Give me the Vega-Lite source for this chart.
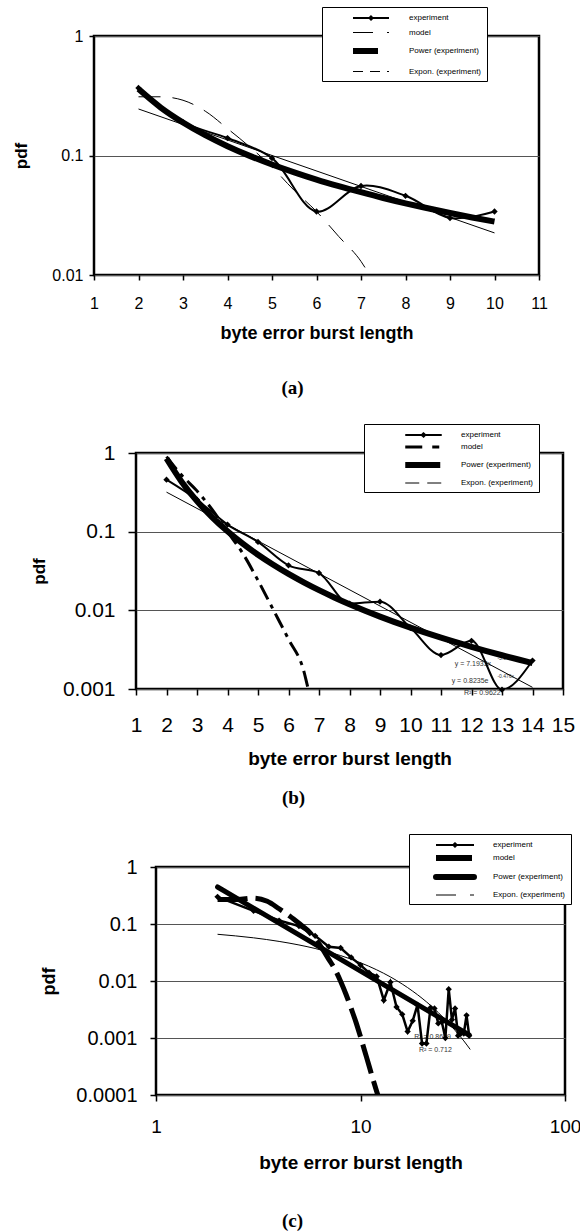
{
  "$schema": "https://vega.github.io/schema/vega-lite/v6.json",
  "padding": {"left": 0, "top": 5, "right": 0, "bottom": 0},
  "spacing": 22,
  "resolve": {"scale": {"stroke": "independent"}, "legend": {"stroke": "independent"}},
  "datasets": {
    "a": [
      {"s": "experiment", "x": 2, "y": 0.367}, {"s": "experiment", "x": 3, "y": 0.19}, {"s": "experiment", "x": 4, "y": 0.14},
      {"s": "experiment", "x": 5, "y": 0.095}, {"s": "experiment", "x": 6, "y": 0.034}, {"s": "experiment", "x": 7, "y": 0.0556},
      {"s": "experiment", "x": 8, "y": 0.046}, {"s": "experiment", "x": 9, "y": 0.03}, {"s": "experiment", "x": 10, "y": 0.034},
      {"s": "model", "x": 2, "y": 0.31}, {"s": "model", "x": 2.5, "y": 0.31}, {"s": "model", "x": 3, "y": 0.29},
      {"s": "model", "x": 3.5, "y": 0.235}, {"s": "model", "x": 4, "y": 0.168}, {"s": "model", "x": 4.5, "y": 0.118},
      {"s": "model", "x": 5, "y": 0.08}, {"s": "model", "x": 5.5, "y": 0.051}, {"s": "model", "x": 6, "y": 0.034},
      {"s": "model", "x": 6.5, "y": 0.021}, {"s": "model", "x": 7, "y": 0.013}, {"s": "model", "x": 7.3, "y": 0.0085},
      {"s": "Power (experiment)", "x": 2, "y": 0.36}, {"s": "Power (experiment)", "x": 2.5, "y": 0.252}, {"s": "Power (experiment)", "x": 3, "y": 0.189},
      {"s": "Power (experiment)", "x": 3.5, "y": 0.148}, {"s": "Power (experiment)", "x": 4, "y": 0.1197}, {"s": "Power (experiment)", "x": 4.5, "y": 0.0993},
      {"s": "Power (experiment)", "x": 5, "y": 0.084}, {"s": "Power (experiment)", "x": 5.5, "y": 0.0722}, {"s": "Power (experiment)", "x": 6, "y": 0.0628},
      {"s": "Power (experiment)", "x": 6.5, "y": 0.0554}, {"s": "Power (experiment)", "x": 7, "y": 0.0493}, {"s": "Power (experiment)", "x": 7.5, "y": 0.0441},
      {"s": "Power (experiment)", "x": 8, "y": 0.0398}, {"s": "Power (experiment)", "x": 8.5, "y": 0.0362}, {"s": "Power (experiment)", "x": 9, "y": 0.033},
      {"s": "Power (experiment)", "x": 9.5, "y": 0.0303}, {"s": "Power (experiment)", "x": 10, "y": 0.028},
      {"s": "Expon. (experiment)", "x": 2, "y": 0.245}, {"s": "Expon. (experiment)", "x": 10, "y": 0.0225}
    ],
    "b": [
      {"s": "experiment", "x": 2, "y": 0.458}, {"s": "experiment", "x": 3, "y": 0.255}, {"s": "experiment", "x": 4, "y": 0.123},
      {"s": "experiment", "x": 5, "y": 0.074}, {"s": "experiment", "x": 6, "y": 0.0373}, {"s": "experiment", "x": 7, "y": 0.0298},
      {"s": "experiment", "x": 8, "y": 0.0122}, {"s": "experiment", "x": 9, "y": 0.0129}, {"s": "experiment", "x": 10, "y": 0.006},
      {"s": "experiment", "x": 11, "y": 0.0027}, {"s": "experiment", "x": 12, "y": 0.0041}, {"s": "experiment", "x": 13, "y": 0.00098},
      {"s": "experiment", "x": 14, "y": 0.0023},
      {"s": "model", "x": 2, "y": 0.9}, {"s": "model", "x": 2.5, "y": 0.52}, {"s": "model", "x": 3, "y": 0.33},
      {"s": "model", "x": 3.5, "y": 0.19}, {"s": "model", "x": 4, "y": 0.1}, {"s": "model", "x": 4.5, "y": 0.053},
      {"s": "model", "x": 5, "y": 0.024}, {"s": "model", "x": 5.5, "y": 0.0102}, {"s": "model", "x": 6, "y": 0.0043},
      {"s": "model", "x": 6.5, "y": 0.0017}, {"s": "model", "x": 6.65, "y": 0.001}, {"s": "model", "x": 6.8, "y": 0.0007},
      {"s": "Power (experiment)", "x": 2, "y": 0.852}, {"s": "Power (experiment)", "x": 2.5, "y": 0.429}, {"s": "Power (experiment)", "x": 3, "y": 0.2447},
      {"s": "Power (experiment)", "x": 3.5, "y": 0.1523}, {"s": "Power (experiment)", "x": 4, "y": 0.101}, {"s": "Power (experiment)", "x": 4.5, "y": 0.0703},
      {"s": "Power (experiment)", "x": 5, "y": 0.0508}, {"s": "Power (experiment)", "x": 5.5, "y": 0.0379}, {"s": "Power (experiment)", "x": 6, "y": 0.029},
      {"s": "Power (experiment)", "x": 6.5, "y": 0.02267}, {"s": "Power (experiment)", "x": 7, "y": 0.01804}, {"s": "Power (experiment)", "x": 7.5, "y": 0.0146},
      {"s": "Power (experiment)", "x": 8, "y": 0.01197}, {"s": "Power (experiment)", "x": 9, "y": 0.00833}, {"s": "Power (experiment)", "x": 10, "y": 0.00602},
      {"s": "Power (experiment)", "x": 11, "y": 0.00449}, {"s": "Power (experiment)", "x": 12, "y": 0.00344}, {"s": "Power (experiment)", "x": 13, "y": 0.002685},
      {"s": "Power (experiment)", "x": 14, "y": 0.002138},
      {"s": "Expon. (experiment)", "x": 2, "y": 0.318}, {"s": "Expon. (experiment)", "x": 14, "y": 0.00105}
    ],
    "bt": [
      {"x": 11.45, "y": 0.0021, "t": "y = 7.1933x", "k": "n"},
      {"x": 12.85, "y": 0.0025, "t": "-3.0771", "k": "s"},
      {"x": 11.35, "y": 0.00126, "t": "y = 0.8235e", "k": "n"},
      {"x": 12.85, "y": 0.00145, "t": "-0.476x", "k": "s"},
      {"x": 11.75, "y": 0.00089, "t": "R² = 0.9622", "k": "n"}
    ],
    "c": [
      {"s": "experiment", "x": 2, "y": 0.3}, {"s": "experiment", "x": 3, "y": 0.17}, {"s": "experiment", "x": 4, "y": 0.115},
      {"s": "experiment", "x": 5, "y": 0.092}, {"s": "experiment", "x": 6, "y": 0.062}, {"s": "experiment", "x": 7, "y": 0.04},
      {"s": "experiment", "x": 8, "y": 0.038}, {"s": "experiment", "x": 9, "y": 0.026}, {"s": "experiment", "x": 10, "y": 0.019},
      {"s": "experiment", "x": 11, "y": 0.014}, {"s": "experiment", "x": 12, "y": 0.012}, {"s": "experiment", "x": 13, "y": 0.0046},
      {"s": "experiment", "x": 14, "y": 0.0095}, {"s": "experiment", "x": 15, "y": 0.0035}, {"s": "experiment", "x": 16, "y": 0.0026},
      {"s": "experiment", "x": 17, "y": 0.0013}, {"s": "experiment", "x": 18, "y": 0.002}, {"s": "experiment", "x": 19, "y": 0.0038},
      {"s": "experiment", "x": 20, "y": 0.0008}, {"s": "experiment", "x": 21, "y": 0.0008}, {"s": "experiment", "x": 22, "y": 0.0034},
      {"s": "experiment", "x": 23, "y": 0.0033}, {"s": "experiment", "x": 24, "y": 0.0018}, {"s": "experiment", "x": 25, "y": 0.0019},
      {"s": "experiment", "x": 26, "y": 0.001}, {"s": "experiment", "x": 27, "y": 0.0072}, {"s": "experiment", "x": 28, "y": 0.0021},
      {"s": "experiment", "x": 29, "y": 0.0033}, {"s": "experiment", "x": 30, "y": 0.0011}, {"s": "experiment", "x": 31, "y": 0.0012},
      {"s": "experiment", "x": 32, "y": 0.0012}, {"s": "experiment", "x": 33, "y": 0.0025}, {"s": "experiment", "x": 34, "y": 0.0011},
      {"s": "model", "x": 2, "y": 0.27}, {"s": "model", "x": 2.5, "y": 0.27}, {"s": "model", "x": 3, "y": 0.285},
      {"s": "model", "x": 3.5, "y": 0.25}, {"s": "model", "x": 4, "y": 0.185}, {"s": "model", "x": 4.5, "y": 0.138},
      {"s": "model", "x": 5, "y": 0.103}, {"s": "model", "x": 5.5, "y": 0.078}, {"s": "model", "x": 6, "y": 0.055},
      {"s": "model", "x": 6.5, "y": 0.037}, {"s": "model", "x": 7, "y": 0.024}, {"s": "model", "x": 7.5, "y": 0.016},
      {"s": "model", "x": 8, "y": 0.0098}, {"s": "model", "x": 8.5, "y": 0.0058}, {"s": "model", "x": 9, "y": 0.0033},
      {"s": "model", "x": 9.5, "y": 0.0019}, {"s": "model", "x": 10, "y": 0.00105}, {"s": "model", "x": 10.5, "y": 0.00058},
      {"s": "model", "x": 11, "y": 0.00033}, {"s": "model", "x": 11.5, "y": 0.00019}, {"s": "model", "x": 12, "y": 0.000115},
      {"s": "model", "x": 12.4, "y": 0.00008},
      {"s": "Power (experiment)", "x": 2, "y": 0.446}, {"s": "Power (experiment)", "x": 34, "y": 0.00113},
      {"s": "Expon. (experiment)", "x": 2, "y": 0.066}, {"s": "Expon. (experiment)", "x": 3, "y": 0.0572}, {"s": "Expon. (experiment)", "x": 4, "y": 0.0495},
      {"s": "Expon. (experiment)", "x": 5, "y": 0.0429}, {"s": "Expon. (experiment)", "x": 6, "y": 0.0372}, {"s": "Expon. (experiment)", "x": 7, "y": 0.0322},
      {"s": "Expon. (experiment)", "x": 8, "y": 0.0279}, {"s": "Expon. (experiment)", "x": 10, "y": 0.0209}, {"s": "Expon. (experiment)", "x": 12, "y": 0.0157},
      {"s": "Expon. (experiment)", "x": 14, "y": 0.0118}, {"s": "Expon. (experiment)", "x": 16, "y": 0.00884}, {"s": "Expon. (experiment)", "x": 18, "y": 0.00663},
      {"s": "Expon. (experiment)", "x": 20, "y": 0.00498}, {"s": "Expon. (experiment)", "x": 22, "y": 0.00374}, {"s": "Expon. (experiment)", "x": 24, "y": 0.0028},
      {"s": "Expon. (experiment)", "x": 26, "y": 0.0021}, {"s": "Expon. (experiment)", "x": 28, "y": 0.00158}, {"s": "Expon. (experiment)", "x": 30, "y": 0.00118},
      {"s": "Expon. (experiment)", "x": 32, "y": 0.00089}, {"s": "Expon. (experiment)", "x": 34.4, "y": 0.00063}
    ],
    "ct": [
      {"x": 18.3, "y": 0.00104, "t": "R² = 0.8699"},
      {"x": 19.3, "y": 0.00062, "t": "R² = 0.712"}
    ],
    "empty": []
  },
  "vconcat": [
    {
      "spacing": 0,
      "resolve": {"scale": {"stroke": "independent"}, "legend": {"stroke": "independent"}},
      "hconcat": [
        {"width": 9.5, "height": 1, "data": {"name": "empty"}, "mark": "point", "view": {"stroke": null}},
        {
          "width": 445, "height": 239,
          "title": {"text": "(a)", "orient": "bottom", "anchor": "middle", "frame": "group", "font": "Liberation Serif", "fontSize": 19, "fontWeight": "bold", "color": "black", "offset": 37, "dx": -24},
          "data": {"name": "a"},
          "encoding": {
            "x": {"field": "x", "type": "quantitative", "scale": {"domain": [1, 11], "nice": false, "zero": false},
              "axis": {"values": [1, 2, 3, 4, 5, 6, 7, 8, 9, 10, 11], "format": "d", "labelFontSize": 16, "labelPadding": 15, "tickSize": 5, "tickWidth": 1.5, "grid": false, "labelFlush": false, "labelOverlap": false,
                "title": "byte error burst length", "titleFontSize": 18, "titleFontWeight": "bold", "titleY": 49}},
            "y": {"field": "y", "type": "quantitative", "scale": {"type": "log", "domain": [0.01, 1], "nice": false},
              "axis": {"values": [0.01, 0.1, 1], "format": "~g", "labelFontSize": 16, "labelPadding": 6, "tickSize": 5, "tickWidth": 1.5, "grid": true, "gridColor": "#555", "labelFlush": false, "labelOverlap": false,
                "title": "pdf", "titleFontSize": 17, "titleFontWeight": "bold", "titleAngle": 270, "titleBaseline": "bottom", "titleAlign": "center", "titleX": -64, "titleY": 119.5}}
          },
          "layer": [
            {"transform": [{"filter": "datum.s === 'Power (experiment)'"}],
             "mark": {"type": "line", "strokeWidth": 6, "interpolate": "monotone", "clip": true},
             "encoding": {"stroke": {"field": "s", "type": "nominal",
               "scale": {"domain": ["experiment", "model", "Power (experiment)", "Expon. (experiment)"], "range": ["black", "black", "black", "black"]},
               "legend": {"orient": "none", "legendX": 228, "legendY": -29, "title": null, "fillColor": "white", "strokeColor": "black", "padding": 5, "rowPadding": 2.5,
                 "symbolSize": 1296, "labelFontSize": 8, "labelColor": "black", "labelFont": "Liberation Sans",
                 "encode": {
                   "symbols": {"update": {
                     "x": {"value": 44}, "y": {"value": 6},
                     "shape": {"signal": "datum.value == 'experiment' ? 'M-1,0H1M0,-0.09L0.09,0L0,0.09L-0.09,0Z' : 'M-1,0H1'"},
                     "strokeWidth": {"signal": "datum.value == 'Power (experiment)' ? 6 : datum.value == 'experiment' ? 2 : 1"},
                     "strokeDash": {"signal": "datum.value == 'model' ? [20,14] : datum.value == 'Power (experiment)' ? [25,22] : datum.value == 'Expon. (experiment)' ? [10,7] : [1,0]"},
                     "fill": {"value": "black"}, "stroke": {"value": "black"}, "opacity": {"value": 1}}},
                   "labels": {"update": {"x": {"value": 82}, "y": {"value": 6}}}}}}}},
            {"transform": [{"filter": "datum.s === 'Expon. (experiment)'"}],
             "mark": {"type": "line", "strokeWidth": 1, "clip": true},
             "encoding": {"stroke": {"field": "s", "type": "nominal"}}},
            {"transform": [{"filter": "datum.s === 'model'"}],
             "mark": {"type": "line", "strokeWidth": 1, "strokeDash": [22, 12], "interpolate": "monotone", "clip": true},
             "encoding": {"stroke": {"field": "s", "type": "nominal"}}},
            {"transform": [{"filter": "datum.s === 'experiment'"}],
             "mark": {"type": "line", "strokeWidth": 2, "interpolate": "catmull-rom", "clip": true},
             "encoding": {"stroke": {"field": "s", "type": "nominal"}}},
            {"transform": [{"filter": "datum.s === 'experiment'"}],
             "mark": {"type": "point", "shape": "diamond", "filled": true, "color": "black", "size": 40, "opacity": 1}}
          ]
        }
      ]
    },
    {
      "spacing": 0,
      "resolve": {"scale": {"stroke": "independent"}, "legend": {"stroke": "independent"}},
      "hconcat": [
        {"width": 27.5, "height": 1, "data": {"name": "empty"}, "mark": "point", "view": {"stroke": null}},
        {
          "width": 427, "height": 236,
          "title": {"text": "(b)", "orient": "bottom", "anchor": "middle", "frame": "group", "font": "Liberation Serif", "fontSize": 19, "fontWeight": "bold", "color": "black", "offset": 21, "dx": -56},
          "data": {"name": "b"},
          "encoding": {
            "x": {"field": "x", "type": "quantitative", "scale": {"domain": [1, 15], "nice": false, "zero": false},
              "axis": {"values": [1, 2, 3, 4, 5, 6, 7, 8, 9, 10, 11, 12, 13, 14, 15], "format": "d", "labelFontSize": 21, "labelPadding": 19, "tickSize": 6, "tickWidth": 1.5, "grid": false, "labelFlush": false, "labelOverlap": false,
                "title": "byte error burst length", "titleFontSize": 19, "titleFontWeight": "bold", "titleY": 60}},
            "y": {"field": "y", "type": "quantitative", "scale": {"type": "log", "domain": [0.001, 1], "nice": false},
              "axis": {"values": [0.001, 0.01, 0.1, 1], "format": "~g", "labelFontSize": 21, "labelPadding": 13, "tickSize": 8, "tickWidth": 1.5, "grid": true, "gridColor": "#555", "labelFlush": false, "labelOverlap": false,
                "title": "pdf", "titleFontSize": 17, "titleFontWeight": "bold", "titleAngle": 270, "titleBaseline": "bottom", "titleAlign": "center", "titleX": -88, "titleY": 118}}
          },
          "layer": [
            {"data": {"name": "bt"}, "transform": [{"filter": "datum.k === 'n'"}],
             "mark": {"type": "text", "align": "left", "baseline": "middle", "fontSize": 7, "color": "#333"},
             "encoding": {"text": {"field": "t"}}},
            {"data": {"name": "bt"}, "transform": [{"filter": "datum.k === 's'"}],
             "mark": {"type": "text", "align": "left", "baseline": "middle", "fontSize": 5, "color": "#333"},
             "encoding": {"text": {"field": "t"}}},
            {"transform": [{"filter": "datum.s === 'Power (experiment)'"}],
             "mark": {"type": "line", "strokeWidth": 6, "interpolate": "monotone", "clip": true},
             "encoding": {"stroke": {"field": "s", "type": "nominal",
               "scale": {"domain": ["experiment", "model", "Power (experiment)", "Expon. (experiment)"], "range": ["black", "black", "black", "black"]},
               "legend": {"orient": "none", "legendX": 228, "legendY": -29, "title": null, "fillColor": "white", "strokeColor": "black", "padding": 5, "rowPadding": 0,
                 "symbolSize": 1332, "labelFontSize": 8, "labelColor": "black", "labelFont": "Liberation Sans",
                 "encode": {
                   "symbols": {"update": {
                     "x": {"value": 54.5}, "y": {"value": 6},
                     "shape": {"signal": "datum.value == 'experiment' ? 'M-1,0H1M0,-0.09L0.09,0L0,0.09L-0.09,0Z' : 'M-1,0H1'"},
                     "strokeWidth": {"signal": "datum.value == 'Power (experiment)' ? 6 : datum.value == 'model' ? 3 : datum.value == 'experiment' ? 2 : 1"},
                     "strokeDash": {"signal": "datum.value == 'model' ? [17,10,7,10] : datum.value == 'Power (experiment)' ? [35,22] : datum.value == 'Expon. (experiment)' ? [14,8] : [1,0]"},
                     "fill": {"value": "black"}, "stroke": {"value": "black"}, "opacity": {"value": 1}}},
                   "labels": {"update": {"x": {"value": 92}, "y": {"value": 6}}}}}}}},
            {"transform": [{"filter": "datum.s === 'Expon. (experiment)'"}],
             "mark": {"type": "line", "strokeWidth": 1, "clip": true},
             "encoding": {"stroke": {"field": "s", "type": "nominal"}}},
            {"transform": [{"filter": "datum.s === 'model'"}],
             "mark": {"type": "line", "strokeWidth": 3, "strokeDash": [16, 6, 4, 6], "interpolate": "monotone", "clip": true},
             "encoding": {"stroke": {"field": "s", "type": "nominal"}}},
            {"transform": [{"filter": "datum.s === 'experiment'"}],
             "mark": {"type": "line", "strokeWidth": 2, "interpolate": "monotone", "clip": true},
             "encoding": {"stroke": {"field": "s", "type": "nominal"}}},
            {"transform": [{"filter": "datum.s === 'experiment'"}],
             "mark": {"type": "point", "shape": "diamond", "filled": true, "color": "black", "size": 40, "opacity": 1}}
          ]
        }
      ]
    },
    {
      "spacing": 0,
      "resolve": {"scale": {"stroke": "independent"}, "legend": {"stroke": "independent"}},
      "hconcat": [
        {"width": 37.5, "height": 1, "data": {"name": "empty"}, "mark": "point", "view": {"stroke": null}},
        {
          "width": 409, "height": 228,
          "title": {"text": "(c)", "orient": "bottom", "anchor": "middle", "frame": "group", "font": "Liberation Serif", "fontSize": 19, "fontWeight": "bold", "color": "black", "offset": 40, "dx": -68},
          "data": {"name": "c"},
          "encoding": {
            "x": {"field": "x", "type": "quantitative", "scale": {"type": "log", "domain": [1, 100], "nice": false},
              "axis": {"values": [1, 10, 100], "format": "~g", "labelFontSize": 19, "labelPadding": 16, "tickSize": 6, "tickWidth": 1.5, "grid": false, "labelFlush": false, "labelOverlap": false,
                "title": "byte error burst length", "titleFontSize": 19, "titleFontWeight": "bold", "titleY": 58}},
            "y": {"field": "y", "type": "quantitative", "scale": {"type": "log", "domain": [0.0001, 1], "nice": false},
              "axis": {"values": [0.0001, 0.001, 0.01, 0.1, 1], "format": "~g", "labelFontSize": 20, "labelPadding": 13, "tickSize": 6, "tickWidth": 1.5, "grid": true, "gridColor": "#555", "labelFlush": false, "labelOverlap": false,
                "title": "pdf", "titleFontSize": 18, "titleFontWeight": "bold", "titleAngle": 270, "titleBaseline": "bottom", "titleAlign": "center", "titleX": -98, "titleY": 114}}
          },
          "layer": [
            {"data": {"name": "ct"},
             "mark": {"type": "text", "align": "left", "baseline": "middle", "fontSize": 7, "color": "#333"},
             "encoding": {"text": {"field": "t"}}},
            {"transform": [{"filter": "datum.s === 'Power (experiment)'"}],
             "mark": {"type": "line", "strokeWidth": 5, "strokeCap": "round", "clip": true},
             "encoding": {"stroke": {"field": "s", "type": "nominal",
               "scale": {"domain": ["experiment", "model", "Power (experiment)", "Expon. (experiment)"], "range": ["black", "black", "black", "black"]},
               "legend": {"orient": "none", "legendX": 253, "legendY": -33, "title": null, "fillColor": "white", "strokeColor": "black", "padding": 5, "rowPadding": -5,
                 "symbolSize": 1444, "labelFontSize": 8, "labelColor": "black", "labelFont": "Liberation Sans",
                 "encode": {
                   "symbols": {"update": {
                     "x": {"value": 41}, "y": {"value": 6},
                     "shape": {"signal": "datum.value == 'experiment' ? 'M-1,0H1M0,-0.09L0.09,0L0,0.09L-0.09,0Z' : 'M-1,0H1'"},
                     "strokeWidth": {"signal": "datum.value == 'Power (experiment)' ? 6 : datum.value == 'model' ? 6 : datum.value == 'experiment' ? 2 : 1"},
                     "strokeDash": {"signal": "datum.value == 'model' ? [36,20] : datum.value == 'Expon. (experiment)' ? [20,14] : [1,0]"},
                     "strokeCap": {"signal": "datum.value == 'Power (experiment)' ? 'round' : 'butt'"},
                     "fill": {"value": "black"}, "stroke": {"value": "black"}, "opacity": {"value": 1}}},
                   "labels": {"update": {"x": {"value": 79}, "y": {"value": 6}}}}}}}},
            {"transform": [{"filter": "datum.s === 'Expon. (experiment)'"}],
             "mark": {"type": "line", "strokeWidth": 1, "interpolate": "monotone", "clip": true},
             "encoding": {"stroke": {"field": "s", "type": "nominal"}}},
            {"transform": [{"filter": "datum.s === 'model'"}],
             "mark": {"type": "line", "strokeWidth": 5, "strokeDash": [30, 8], "interpolate": "monotone", "clip": true},
             "encoding": {"stroke": {"field": "s", "type": "nominal"}}},
            {"transform": [{"filter": "datum.s === 'experiment'"}],
             "mark": {"type": "line", "strokeWidth": 2.5, "clip": true},
             "encoding": {"stroke": {"field": "s", "type": "nominal"}}},
            {"transform": [{"filter": "datum.s === 'experiment'"}],
             "mark": {"type": "point", "shape": "diamond", "filled": true, "color": "black", "size": 40, "opacity": 1}}
          ]
        }
      ]
    }
  ],
  "config": {
    "font": "Liberation Sans",
    "view": {"stroke": "black", "strokeWidth": 2.5},
    "axis": {"domain": false, "tickColor": "black", "labelColor": "black", "titleColor": "black", "labelFont": "Liberation Sans", "titleFont": "Liberation Sans"},
    "text": {"font": "Liberation Sans"}
  }
}
